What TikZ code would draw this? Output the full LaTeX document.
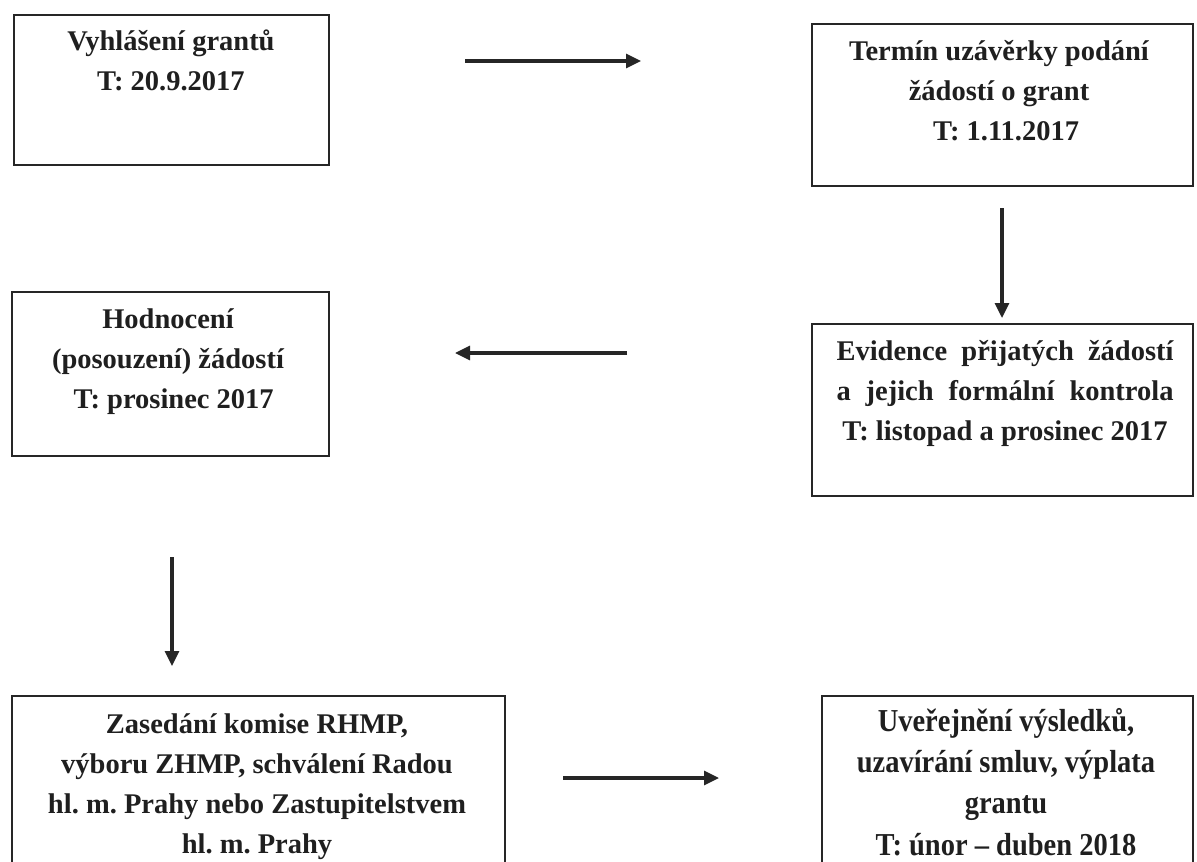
\documentclass[tikz,border=0pt]{standalone}
\usepackage{fontspec}
\setmainfont{Liberation Serif}
\usetikzlibrary{arrows.meta}
\frenchspacing
\begin{document}
\begin{tikzpicture}[x=1pt,y=-1pt,
  box/.style={draw=black!85, line width=1.8pt, anchor=north west, inner sep=0pt},
  txt/.style={anchor=north, inner sep=0pt, align=center, text=black!88, font=\fontsize{28.5}{40}\selectfont\bfseries},
  arr/.style={line width=3.2pt, draw=black!85, -{Triangle[length=15pt,width=14pt]}}]
\useasboundingbox (0,0) rectangle (1197,862);
\clip (0,0) rectangle (1197,862);
\fill[white] (0,0) rectangle (1197,862);
% boxes
\node[box, minimum width=315pt, minimum height=150pt] (b1) at (13,14) {};
\node[box, minimum width=381pt, minimum height=162pt] (b2) at (811,23) {};
\node[box, minimum width=317pt, minimum height=164pt] (b3) at (11,291) {};
\node[box, minimum width=381pt, minimum height=172pt] (b4) at (811,323) {};
\node[box, minimum width=493pt, minimum height=180pt] (b5) at (11,695) {};
\node[box, minimum width=371pt, minimum height=180pt] (b6) at (821,695) {};
% texts
\node[txt] (t1) at (171,26) {\rule{0pt}{24pt}Vyhlášení grantů\\T: 20.9.2017};
\node[txt] (t2) at (999,36) {\rule{0pt}{24pt}Termín uzávěrky podání\\žádostí o grant\\\hspace*{0.5em}T: 1.11.2017};
\node[txt] (t3) at (168,304) {\rule{0pt}{24pt}Hodnocení\\(posouzení) žádostí\\\hspace*{0.4em}T: prosinec 2017};
\node[txt] (t4) at (1005,336) {\rule{0pt}{24pt}\makebox[337pt][s]{Evidence přijatých žádostí}\\\makebox[337pt][s]{a jejich formální kontrola}\\T: listopad a prosinec 2017};
\node[txt] (t5) at (257,709) {\rule{0pt}{24pt}Zasedání komise RHMP,\\výboru ZHMP, schválení Radou\\hl. m. Prahy nebo Zastupitelstvem\\hl. m. Prahy};
\node[txt] (t6) at (1006,704) {\scalebox{1}[1.12]{\parbox{360pt}{\centering\fontsize{28.5}{37}\selectfont\bfseries\rule{0pt}{24pt}Uveřejnění výsledků,\\uzavírání smluv, výplata\\grantu\\T: únor – duben 2018}}};
% arrow ends
\coordinate (a1s) at (465,61);  \coordinate (a1e) at (641,61);
\coordinate (a2s) at (1002,208); \coordinate (a2e) at (1002,318);
\coordinate (a3s) at (627,353); \coordinate (a3e) at (455,353);
\coordinate (a4s) at (172,557); \coordinate (a4e) at (172,666);
\coordinate (a5s) at (563,778); \coordinate (a5e) at (719,778);
\draw[arr] (a1s) -- (a1e);
\draw[arr] (a2s) -- (a2e);
\draw[arr] (a3s) -- (a3e);
\draw[arr] (a4s) -- (a4e);
\draw[arr] (a5s) -- (a5e);
\end{tikzpicture}
\end{document}
